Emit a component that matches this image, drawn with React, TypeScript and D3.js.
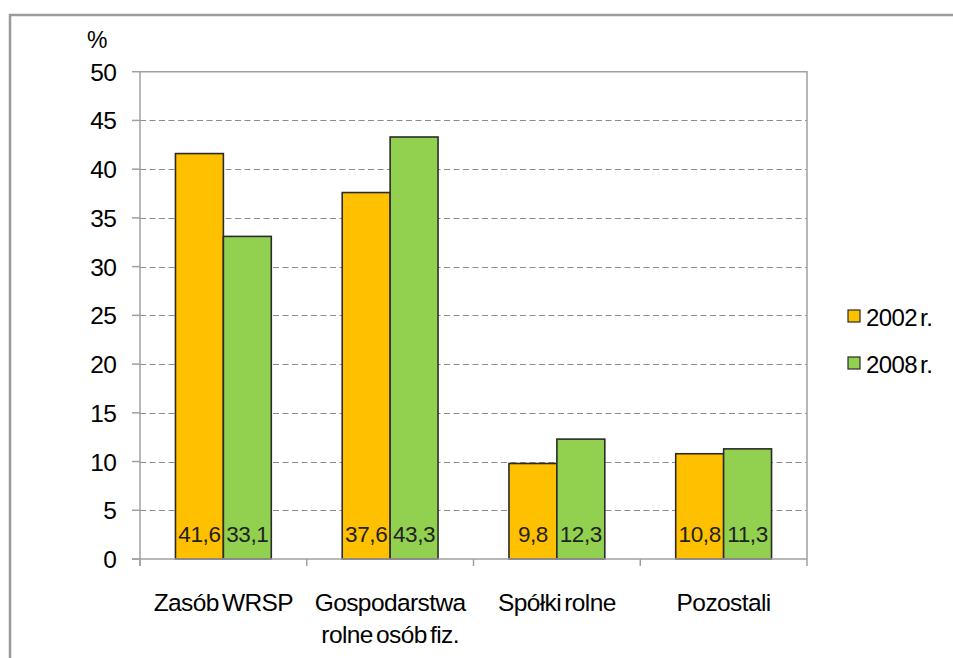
import React, { useRef, useEffect } from 'react';
import * as d3 from 'd3';

const categories = [['Zasób WRSP'], ['Gospodarstwa', 'rolne osób fiz.'], ['Spółki rolne'], ['Pozostali']];
const series2002 = [41.6, 37.6, 9.8, 10.8];
const series2008 = [33.1, 43.3, 12.3, 11.3];
const seriesNames = ['2002 r.', '2008 r.'];
const seriesColors = ['#FFC000', '#92D050'];
const yTicks = [0, 5, 10, 15, 20, 25, 30, 35, 40, 45, 50];

const W = 953;
const H = 658;
const FONT = 'Arial, "Liberation Sans", sans-serif';

export default function App() {
  const svgRef = useRef(null);

  useEffect(() => {
    const svg = d3.select(svgRef.current);
    svg.selectAll('*').remove();

    const left = 140, right = 807, top = 71.7, bottom = 559;
    const idx = categories.map((_, i) => i);
    const x = d3.scaleBand<number>().domain(idx).range([left, right]).paddingInner(0).paddingOuter(0);
    const y = d3.scaleLinear().domain([0, 50]).range([bottom, top]);
    const inner = d3.scaleBand<number>().domain([0, 1]).range([0, x.bandwidth()]).paddingInner(0).paddingOuter(0.74);

    // outer frame
    svg.append('path')
      .attr('d', `M10,${H + 5} L10,15 L${W + 5},15`)
      .attr('fill', 'none')
      .attr('stroke', '#9a9a9a')
      .attr('stroke-width', 2.5);

    // gridlines (dashed)
    svg.append('g')
      .selectAll('line')
      .data(yTicks.filter(t => t > 0 && t < 50))
      .join('line')
      .attr('x1', left).attr('x2', right)
      .attr('y1', d => Math.round(y(d)) + 0.5).attr('y2', d => Math.round(y(d)) + 0.5)
      .attr('stroke', '#8c8c8c')
      .attr('stroke-width', 1.2)
      .attr('stroke-dasharray', '6,3.5');

    // plot border top + right
    svg.append('path')
      .attr('d', `M${left},${top} L${right},${top} L${right},${bottom}`)
      .attr('fill', 'none')
      .attr('stroke', '#a0a0a0')
      .attr('stroke-width', 1.5);

    // bars
    const data = idx.map(i => [series2002[i], series2008[i]]);
    const groups = svg.append('g')
      .selectAll('g')
      .data(data)
      .join('g')
      .attr('transform', (_, i) => `translate(${x(i)},0)`);

    groups.selectAll('rect')
      .data(d => d)
      .join('rect')
      .attr('x', (_, j) => inner(j)!)
      .attr('y', d => y(d))
      .attr('width', inner.bandwidth())
      .attr('height', d => bottom - y(d))
      .attr('fill', (_, j) => seriesColors[j])
      .attr('stroke', '#2b2b2b')
      .attr('stroke-width', 1.6);

    groups.selectAll('text')
      .data(d => d)
      .join('text')
      .attr('x', (_, j) => inner(j)! + inner.bandwidth() / 2)
      .attr('y', 541.5)
      .attr('text-anchor', 'middle')
      .attr('fill', '#222')
      .style('font-family', FONT)
      .style('font-size', '22.5px')
      .style('letter-spacing', '-0.4px')
      .text(d => d3.format('.1f')(d).replace('.', ','));

    // y axis
    svg.append('line')
      .attr('x1', left).attr('x2', left).attr('y1', top).attr('y2', bottom + 7)
      .attr('stroke', '#a0a0a0').attr('stroke-width', 1.5);
    const yAxis = svg.append('g');
    yAxis.selectAll('line')
      .data(yTicks)
      .join('line')
      .attr('x1', left - 8).attr('x2', left)
      .attr('y1', d => y(d)).attr('y2', d => y(d))
      .attr('stroke', '#a0a0a0').attr('stroke-width', 1.5);
    yAxis.selectAll('text')
      .data(yTicks)
      .join('text')
      .attr('x', 116)
      .attr('y', d => y(d) + 9)
      .attr('text-anchor', 'end')
      .attr('fill', '#000')
      .style('font-family', FONT)
      .style('font-size', '24.5px')
      .style('letter-spacing', '-0.8px')
      .text(d => d);

    svg.append('text')
      .attr('x', 87).attr('y', 48)
      .attr('fill', '#000')
      .style('font-family', FONT)
      .style('font-size', '23px')
      .text('%');

    // x axis
    svg.append('line')
      .attr('x1', left - 8).attr('x2', right).attr('y1', bottom).attr('y2', bottom)
      .attr('stroke', '#a0a0a0').attr('stroke-width', 1.5);
    svg.append('g')
      .selectAll('line')
      .data([...idx, idx.length])
      .join('line')
      .attr('x1', d => left + d * x.bandwidth()).attr('x2', d => left + d * x.bandwidth())
      .attr('y1', bottom).attr('y2', bottom + 7)
      .attr('stroke', '#a0a0a0').attr('stroke-width', 1.5);

    const catLabels = svg.append('g')
      .selectAll('text')
      .data(categories)
      .join('text')
      .attr('x', (_, i) => x(i)! + x.bandwidth() / 2)
      .attr('y', 611)
      .attr('text-anchor', 'middle')
      .attr('fill', '#000')
      .style('font-family', FONT)
      .style('font-size', '24.5px')
      .style('letter-spacing', '-0.6px')
      .style('word-spacing', '-3px');
    catLabels.selectAll('tspan')
      .data((d, i) => d.map(t => ({ t, cx: x(i)! + x.bandwidth() / 2 })))
      .join('tspan')
      .attr('x', d => d.cx)
      .attr('dy', (_, k) => (k === 0 ? 0 : 31.5))
      .text(d => d.t);

    // legend
    const legend = svg.append('g')
      .selectAll('g')
      .data(seriesNames)
      .join('g')
      .attr('transform', (_, i) => `translate(848,${310 + i * 47})`);
    legend.append('rect')
      .attr('width', 12).attr('height', 12)
      .attr('fill', (_, i) => seriesColors[i])
      .attr('stroke', '#2b2b2b').attr('stroke-width', 1.2);
    legend.append('text')
      .attr('x', 18).attr('y', 15.5)
      .attr('fill', '#000')
      .style('font-family', FONT)
      .style('font-size', '24px')
      .style('letter-spacing', '-0.6px')
      .style('word-spacing', '-3px')
      .text(d => d);
  }, []);

  return (
    <svg ref={svgRef} width={W} height={H}
      style={{ position: 'absolute', left: 0, top: 0, background: '#fff', display: 'block' }} />
  );
}
